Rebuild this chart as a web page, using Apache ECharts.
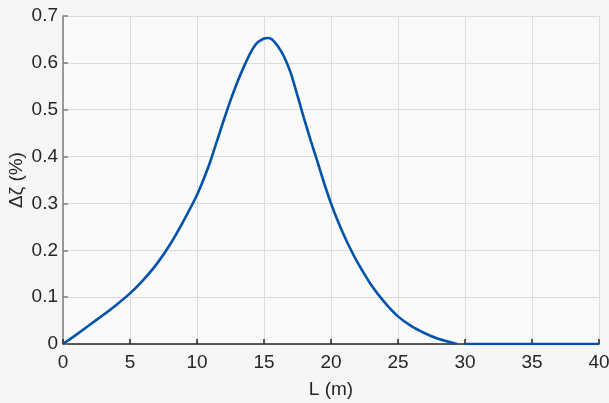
<!DOCTYPE html>
<html>
<head>
<meta charset="utf-8">
<script src="https://cdn.jsdelivr.net/npm/echarts@6/dist/echarts.min.js"></script>
<style>
  html, body { margin: 0; padding: 0; background: #f6f6f6; }
  #chart { width: 609px; height: 403px; }
</style>
</head>
<body>
<div id="chart"></div>
<script>
// L (m) and Δζ (%)
const lengths = [0, 1, 2, 3, 4, 5, 6, 7, 8, 9, 10, 10.5, 11, 11.5, 12, 12.5, 13, 13.5, 14, 14.5, 15, 15.3, 15.6, 16, 16.5, 17, 17.5, 18, 18.5, 19, 19.5, 20, 20.5, 21, 21.5, 22, 23, 24, 25, 26, 27, 28, 29, 29.4];
const deltaZeta = [0, 0.02, 0.041, 0.062, 0.084, 0.108, 0.137, 0.171, 0.213, 0.263, 0.318, 0.352, 0.39, 0.434, 0.478, 0.52, 0.558, 0.592, 0.622, 0.643, 0.652, 0.653, 0.65, 0.637, 0.613, 0.578, 0.53, 0.48, 0.433, 0.388, 0.342, 0.3, 0.263, 0.23, 0.2, 0.173, 0.126, 0.089, 0.059, 0.038, 0.023, 0.011, 0.003, 0];
// flat tail, separate piece
const tailLengths = [30, 40];
const tailValues = [0, 0];

const xTicks = [0, 5, 10, 15, 20, 25, 30, 35, 40];
const yTicks = [0, 0.1, 0.2, 0.3, 0.4, 0.5, 0.6, 0.7];

const lineData = lengths.map((l, i) => [l, deltaZeta[i]]);
lineData.push([29.7, null]);
tailLengths.forEach((l, i) => lineData.push([l, tailValues[i]]));

const chart = echarts.init(document.getElementById('chart'), null, { renderer: 'canvas' });
const font = 'Arial, "Liberation Sans", Helvetica, sans-serif';

chart.setOption({
  backgroundColor: '#f6f6f6',
  animation: false,
  grid: {
    left: 63, right: 10, top: 16, bottom: 59,
    outerBoundsMode: 'none',
    containLabel: false,
    show: true, backgroundColor: '#fafafa', borderWidth: 0
  },
  xAxis: {
    type: 'value',
    min: xTicks[0], max: xTicks[xTicks.length - 1], interval: 5,
    name: 'L (m)', nameLocation: 'middle', nameGap: 36, nameMoveOverlap: false,
    nameTextStyle: { fontFamily: font, fontSize: 19, color: '#262626' },
    axisLine: { onZero: false, lineStyle: { color: '#262626', width: 1.5 } },
    axisTick: { inside: true, length: 5, lineStyle: { color: '#262626', width: 1.5 } },
    axisLabel: { fontFamily: font, fontSize: 19, color: '#262626', margin: 9 },
    splitLine: { show: true, lineStyle: { color: '#dcdcdc', width: 1 } }
  },
  yAxis: {
    type: 'value',
    min: yTicks[0], max: yTicks[yTicks.length - 1], interval: 0.1,
    name: 'Δζ (%)', nameLocation: 'middle', nameGap: 37, nameMoveOverlap: false,
    nameTextStyle: { fontFamily: font, fontSize: 19, color: '#262626' },
    axisLine: { show: true, lineStyle: { color: '#7f7f7f', width: 1.5 } },
    axisTick: { show: true, inside: true, length: 5, lineStyle: { color: '#7f7f7f', width: 1.5 } },
    axisLabel: {
      fontFamily: font, fontSize: 19, color: '#262626', margin: 5,
      formatter: v => (v === 0 ? '0' : v.toFixed(1))
    },
    splitLine: { show: true, lineStyle: { color: '#dcdcdc', width: 1 } }
  },
  series: [{
    type: 'line',
    data: lineData,
    smooth: 0.2,
    showSymbol: false,
    connectNulls: false,
    z: 5,
    lineStyle: { color: '#0052aa', width: 2.6 }
  }]
});
</script>
</body>
</html>
